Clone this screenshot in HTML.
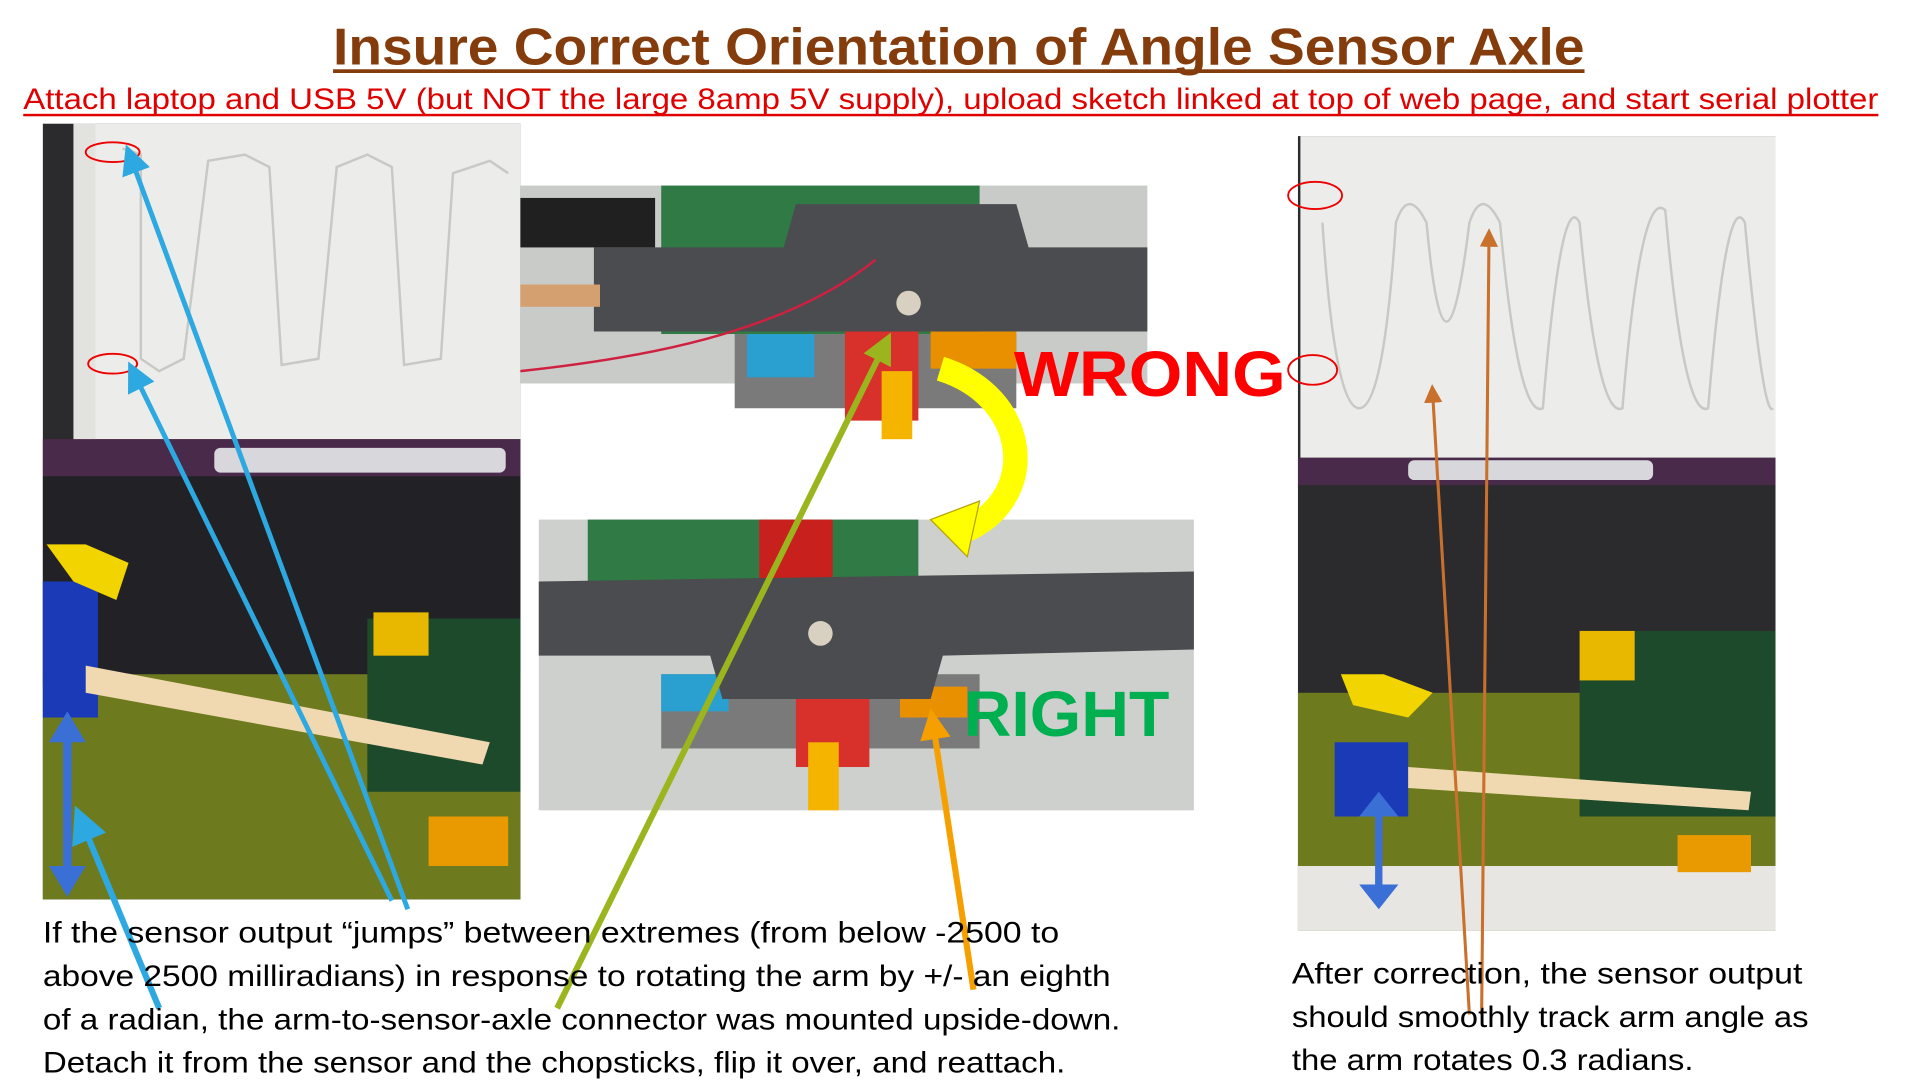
<!DOCTYPE html>
<html><head><meta charset="utf-8"><style>html,body{margin:0;padding:0;background:#fff;width:1920px;height:1080px;overflow:hidden}svg{display:block}</style></head><body>
<svg width="1920" height="1080" viewBox="0 0 1568 873" preserveAspectRatio="none" xmlns="http://www.w3.org/2000/svg" font-family="Liberation Sans, sans-serif">
<defs>
<marker id="ab" markerWidth="6" markerHeight="6" refX="3" refY="3" orient="auto"><path d="M0,0 L6,3 L0,6z" fill="#2ea8e0"/></marker>
<marker id="ag" markerWidth="5" markerHeight="5" refX="2.5" refY="2.5" orient="auto"><path d="M0,0 L5,2.5 L0,5z" fill="#9ab51e"/></marker>
<marker id="ao" markerWidth="5" markerHeight="5" refX="2.5" refY="2.5" orient="auto"><path d="M0,0 L5,2.5 L0,5z" fill="#f5a000"/></marker>
<marker id="ar" markerWidth="6" markerHeight="6" refX="3" refY="3" orient="auto"><path d="M0,0 L6,3 L0,6z" fill="#c8702c"/></marker>
</defs>
<text x="272" y="52" font-size="42" font-weight="bold" fill="#843c0c" textLength="1022" lengthAdjust="spacingAndGlyphs">Insure Correct Orientation of Angle Sensor Axle</text>
<rect x="272" y="56" width="1022" height="3" fill="#843c0c"/>
<text x="19" y="88" font-size="24" fill="#e00000" textLength="1515" lengthAdjust="spacingAndGlyphs">Attach laptop and USB 5V (but NOT the large 8amp 5V supply), upload sketch linked at top of  web page, and start serial plotter</text>
<rect x="19" y="92" width="1515" height="2" fill="#e00000"/>

<!-- left photo -->
<rect x="35" y="100" width="390" height="627" fill="#2b2b2e"/>
<rect x="60" y="100" width="365" height="255" fill="#ececea"/>
<rect x="60" y="100" width="18" height="255" fill="#e2e2df"/>
<path d="M100,120 L115,125 L115,290 L130,300 L150,290 L170,130 L200,125 L220,135 L230,295 L260,290 L275,135 L300,125 L320,135 L330,295 L360,290 L370,140 L400,130 L415,140" stroke="#c8c8c4" fill="none" stroke-width="2"/>
<rect x="35" y="355" width="390" height="30" fill="#4a2a4a"/>
<rect x="175" y="362" width="238" height="20" rx="5" fill="#d8d8dc"/>
<rect x="35" y="385" width="390" height="170" fill="#222226"/>
<rect x="35" y="545" width="390" height="182" fill="#6d7a1e"/>
<rect x="300" y="500" width="125" height="140" fill="#1d4a2a"/>
<rect x="305" y="495" width="45" height="35" fill="#e8b800"/>
<rect x="350" y="660" width="65" height="40" fill="#e89a00"/>
<rect x="35" y="470" width="45" height="110" fill="#1a3ab8"/>
<path d="M38,440 L70,440 L105,455 L95,485 L60,470 Z" fill="#f1d400"/>
<path d="M70,538 L400,600 L394,618 L70,560 Z" fill="#f0d8b0"/>
<path d="M55,582 L55,718" stroke="#3a6fd6" stroke-width="7"/>
<path d="M55,575 L40,600 L70,600Z M55,725 L40,700 L70,700Z" fill="#3a6fd6"/>
<ellipse cx="92" cy="123" rx="22" ry="8" fill="none" stroke="#e00" stroke-width="1.5"/>
<ellipse cx="92" cy="294" rx="20" ry="8" fill="none" stroke="#e00" stroke-width="1.5"/>

<!-- middle top photo -->
<rect x="425" y="150" width="512" height="160" fill="#c9cbc8"/>
<rect x="540" y="150" width="260" height="120" fill="#2f7a45"/>
<rect x="425" y="160" width="110" height="40" fill="#202020"/>
<rect x="600" y="270" width="230" height="60" fill="#7a7a7a"/>
<rect x="690" y="265" width="60" height="75" fill="#d8302a"/>
<rect x="760" y="268" width="70" height="30" fill="#e89000"/>
<rect x="610" y="270" width="55" height="35" fill="#2aa0d0"/>
<path d="M485,200 L640,200 L650,165 L830,165 L840,200 L937,200 L937,268 L485,268 Z" fill="#4b4c4f"/>
<rect x="425" y="230" width="65" height="18" fill="#d4a070"/>
<circle cx="742" cy="245" r="10" fill="#d8d0c0"/>
<path d="M425,300 C520,290 640,270 715,210" stroke="#d02040" stroke-width="2" fill="none"/>
<rect x="720" y="300" width="25" height="55" fill="#f5b400"/>

<!-- middle bottom photo -->
<rect x="440" y="420" width="535" height="235" fill="#cdd0cc"/>
<rect x="480" y="420" width="270" height="60" fill="#2f7a45"/>
<rect x="620" y="420" width="60" height="60" fill="#c8201c"/>
<rect x="540" y="545" width="260" height="60" fill="#7a7a7a"/>
<rect x="540" y="545" width="55" height="30" fill="#2aa0d0"/>
<rect x="650" y="560" width="60" height="60" fill="#d8302a"/>
<rect x="735" y="555" width="55" height="25" fill="#e89000"/>
<path d="M440,470 L975,462 L975,525 L770,530 L760,565 L590,565 L580,530 L440,530 Z" fill="#4b4c4f"/>
<circle cx="670" cy="512" r="10" fill="#d8d0c0"/>
<rect x="660" y="600" width="25" height="55" fill="#f5b400"/>

<!-- right photo -->
<rect x="1060" y="110" width="390" height="642" fill="#2b2b2e"/>
<rect x="1062" y="110" width="388" height="260" fill="#ececea"/>
<path d="M1080,180 Q1090,330 1110,330 Q1130,330 1140,180 Q1150,150 1165,180 Q1180,340 1200,180 Q1210,150 1225,180" stroke="#c8c8c4" fill="none" stroke-width="2"/>
<path d="M1225,180 Q1240,340 1260,330 Q1275,150 1290,180 Q1305,340 1325,330 Q1340,150 1360,170 Q1375,340 1395,330 Q1410,150 1425,180 Q1440,340 1448,330" stroke="#c8c8c4" fill="none" stroke-width="2"/>
<rect x="1060" y="370" width="390" height="22" fill="#4a2a4a"/>
<rect x="1150" y="372" width="200" height="16" rx="5" fill="#d8d8dc"/>
<rect x="1060" y="560" width="390" height="192" fill="#6d7a1e"/>
<rect x="1060" y="700" width="390" height="52" fill="#e8e6e2"/>
<rect x="1290" y="510" width="160" height="150" fill="#1d4a2a"/>
<rect x="1290" y="510" width="45" height="40" fill="#e8b800"/>
<rect x="1370" y="675" width="60" height="30" fill="#e89a00"/>
<rect x="1090" y="600" width="60" height="60" fill="#1a3ab8"/>
<path d="M1095,545 L1130,545 L1170,560 L1150,580 L1105,570Z" fill="#f1d400"/>
<path d="M1150,620 L1430,640 L1428,655 L1150,637Z" fill="#f0d8b0"/>
<path d="M1126,650 L1126,725" stroke="#3a6fd6" stroke-width="6"/>
<path d="M1126,640 L1110,660 L1142,660Z M1126,735 L1110,715 L1142,715Z" fill="#3a6fd6"/>
<ellipse cx="1074" cy="158" rx="22" ry="11" fill="none" stroke="#e00" stroke-width="1.5"/>
<ellipse cx="1072" cy="299" rx="20" ry="12" fill="none" stroke="#e00" stroke-width="1.5"/>

<!-- labels -->
<text x="828" y="320" font-size="52" font-weight="bold" fill="#ff0000" textLength="222" lengthAdjust="spacingAndGlyphs">WRONG</text>
<text x="787" y="595" font-size="52" font-weight="bold" fill="#00b050" textLength="168" lengthAdjust="spacingAndGlyphs">RIGHT</text>
<path d="M768,298 C840,320 850,400 790,428" stroke="#ffff00" stroke-width="20" fill="none"/>
<path d="M760,420 L800,405 L790,450Z" fill="#ffff00" stroke="#b8a000" stroke-width="1"/>

<!-- arrows -->
<line x1="333" y1="735" x2="107" y2="128" stroke="#2ea8e0" stroke-width="4" marker-end="url(#ab)"/>
<line x1="320" y1="728" x2="110" y2="303" stroke="#2ea8e0" stroke-width="4" marker-end="url(#ab)"/>
<line x1="130" y1="815" x2="67" y2="665" stroke="#2ea8e0" stroke-width="5" marker-end="url(#ab)"/>
<line x1="455" y1="815" x2="722" y2="280" stroke="#9ab51e" stroke-width="5" marker-end="url(#ag)"/>
<line x1="795" y1="800" x2="762" y2="585" stroke="#f5a000" stroke-width="5" marker-end="url(#ao)"/>
<line x1="1200" y1="820" x2="1170" y2="318" stroke="#c8702c" stroke-width="2.5" marker-end="url(#ar)"/>
<line x1="1210" y1="820" x2="1216" y2="192" stroke="#c8702c" stroke-width="2.5" marker-end="url(#ar)"/>

<g font-size="24" fill="#000" lengthAdjust="spacingAndGlyphs">
<text x="35" y="762" textLength="830" lengthAdjust="spacingAndGlyphs">If the sensor output “jumps” between extremes (from below -2500 to</text>
<text x="35" y="797" textLength="872" lengthAdjust="spacingAndGlyphs">above 2500 milliradians) in response to rotating the arm by  +/- an eighth</text>
<text x="35" y="832" textLength="880" lengthAdjust="spacingAndGlyphs">of a radian, the arm-to-sensor-axle connector was mounted upside-down.</text>
<text x="35" y="867" textLength="835" lengthAdjust="spacingAndGlyphs">Detach it from the sensor and the chopsticks, flip it over, and reattach.</text>
<text x="1055" y="795" textLength="417" lengthAdjust="spacingAndGlyphs">After correction, the sensor output</text>
<text x="1055" y="830" textLength="422" lengthAdjust="spacingAndGlyphs">should smoothly track arm angle as</text>
<text x="1055" y="865" textLength="328" lengthAdjust="spacingAndGlyphs">the arm rotates 0.3 radians.</text>
</g>
</svg>
</body></html>
